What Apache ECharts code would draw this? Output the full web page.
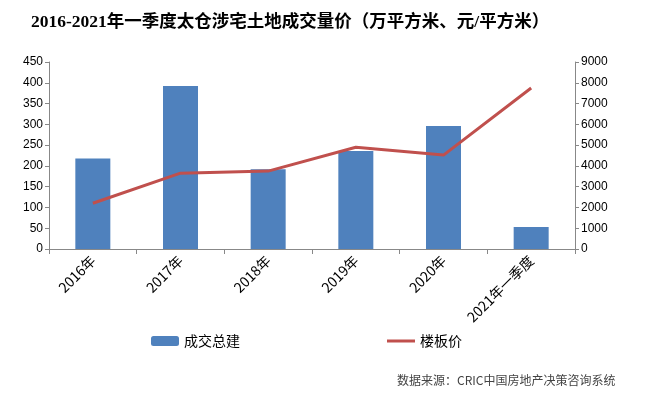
<!DOCTYPE html>
<html>
<head>
<meta charset="utf-8">
<script src="https://cdn.jsdelivr.net/npm/echarts@6/dist/echarts.min.js"></script>
<style>
  html, body { margin: 0; padding: 0; background: #fff; }
  #main { width: 660px; height: 396px; }
</style>
</head>
<body>
<div id="main"></div>
<script>
// 类目与数据
var categories = ["2016年", "2017年", "2018年", "2019年", "2020年", "2021年一季度"];
var areaData = [218, 392, 192, 236, 296, 53];          // 成交总建（万平方米）
var priceData = [2200, 3650, 3750, 4900, 4520, 7750];  // 楼板价（元/平方米）

var myChart = echarts.init(document.getElementById("main"));
var axisColor = "#888";
var option = {
  backgroundColor: "#fff",
  animation: false,
  title: {
    text: "2016-2021年一季度太仓涉宅土地成交量价（万平方米、元/平方米）",
    left: 26,
    top: 9,
    textStyle: {
      fontFamily: "Liberation Serif, Noto Sans CJK SC",
      fontSize: 17.5,
      fontWeight: "bold",
      color: "#000"
    }
  },
  graphic: [
    {
      type: "text",
      left: 397,
      top: 374,
      style: {
        text: "数据来源：CRIC中国房地产决策咨询系统",
        fontSize: 12,
        fill: "#444",
        fontFamily: "Noto Sans CJK SC"
      }
    }
  ],
  legend: [
    {
      data: ["成交总建"],
      left: 146,
      top: 329,
      itemWidth: 28,
      itemHeight: 10,
      textStyle: { fontSize: 14, color: "#000", fontFamily: "Noto Sans CJK SC" }
    },
    {
      data: [{ name: "楼板价", icon: "rect" }],
      left: 382,
      top: 329,
      itemWidth: 28,
      itemHeight: 3,
      textStyle: { fontSize: 14, color: "#000", fontFamily: "Noto Sans CJK SC" }
    }
  ],
  grid: {
    left: 49,
    right: 85,
    top: 62,
    bottom: 147
  },
  xAxis: {
    type: "category",
    data: categories,
    axisLine: { lineStyle: { color: axisColor } },
    axisTick: { show: true, length: 5, lineStyle: { color: axisColor } },
    axisLabel: {
      interval: 0,
      rotate: 45,
      color: "#000",
      fontSize: 14,
      margin: 9,
      fontFamily: "Noto Sans CJK SC"
    }
  },
  yAxis: [
    {
      type: "value",
      min: 0,
      max: 450,
      interval: 50,
      splitLine: { show: false },
      axisLine: { show: true, lineStyle: { color: axisColor } },
      axisTick: { show: true, length: 4, lineStyle: { color: axisColor } },
      axisLabel: { color: "#000", fontSize: 12, margin: 6 }
    },
    {
      type: "value",
      min: 0,
      max: 9000,
      interval: 1000,
      splitLine: { show: false },
      axisLine: { show: true, lineStyle: { color: axisColor } },
      axisTick: { show: true, length: 4, lineStyle: { color: axisColor } },
      axisLabel: {
        color: "#000",
        fontSize: 12,
        margin: 6,
        formatter: function (v) { return String(v); }
      }
    }
  ],
  series: [
    {
      name: "成交总建",
      type: "bar",
      data: areaData,
      barWidth: 35,
      itemStyle: { color: "#4F81BD" }
    },
    {
      name: "楼板价",
      type: "line",
      yAxisIndex: 1,
      data: priceData,
      symbol: "none",
      lineStyle: { color: "#C0504D", width: 3 },
      itemStyle: { color: "#C0504D" }
    }
  ]
};
myChart.setOption(option);
</script>
</body>
</html>
